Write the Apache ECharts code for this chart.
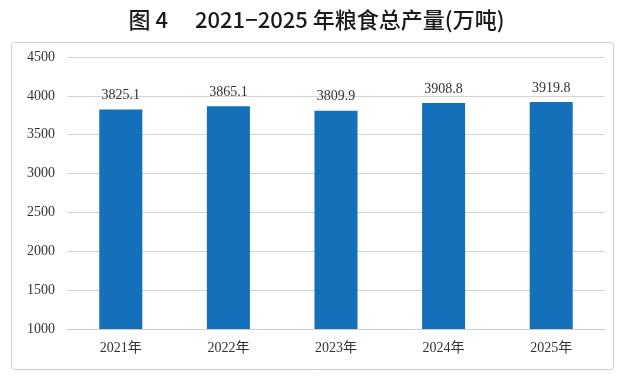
<!DOCTYPE html>
<html><head><meta charset="utf-8">
<script src="https://cdn.jsdelivr.net/npm/echarts@6/dist/echarts.min.js"></script>
<style>html,body{margin:0;padding:0;background:#fff}#c{width:633px;height:379px}</style>
</head><body><div id="c"></div>
<script>
const categories = ['2021年','2022年','2023年','2024年','2025年'];
const values = [3825.1, 3865.1, 3809.9, 3908.8, 3919.8];
const yTicks = [1000, 1500, 2000, 2500, 3000, 3500, 4000, 4500];

const chart = echarts.init(document.getElementById('c'));
chart.setOption({
  backgroundColor: '#fff',
  animation: false,
  title: {
    text: '图 4　 2021−2025 年粮食总产量(万吨)',
    left: 'center', top: 4,
    textStyle: {fontFamily: 'Noto Sans CJK SC', fontWeight: 500, fontSize: 22, color: '#1a1a1a'}
  },
  graphic: [{
    type: 'rect', shape: {x: 11.5, y: 42.5, width: 602, height: 327, r: 3},
    style: {fill: 'none', stroke: '#cfcfcf', lineWidth: 1}, z: -1
  }],
  grid: {left: 67, right: 28, top: 57, bottom: 50},
  xAxis: {
    type: 'category', data: categories,
    axisLine: {lineStyle: {color: '#cdcdcd'}},
    axisTick: {show: false},
    axisLabel: {color: '#333', fontFamily: 'Liberation Serif, Noto Sans CJK SC', fontSize: 14, margin: 12}
  },
  yAxis: {
    type: 'value', min: yTicks[0], max: yTicks[yTicks.length-1], interval: 500,
    axisLine: {show: false}, axisTick: {show: false},
    splitLine: {lineStyle: {color: '#d3d3d3'}},
    axisLabel: {color: '#333', fontFamily: 'Liberation Serif', fontSize: 14, margin: 12,
      formatter: v => String(v)}
  },
  series: [{
    type: 'bar', data: values, barWidth: '40%',
    itemStyle: {color: '#1570BA'},
    label: {show: true, position: 'top', distance: 7, color: '#333', fontFamily: 'Liberation Serif', fontSize: 14,
      formatter: p => p.value.toFixed(1)}
  }]
});
</script></body></html>
